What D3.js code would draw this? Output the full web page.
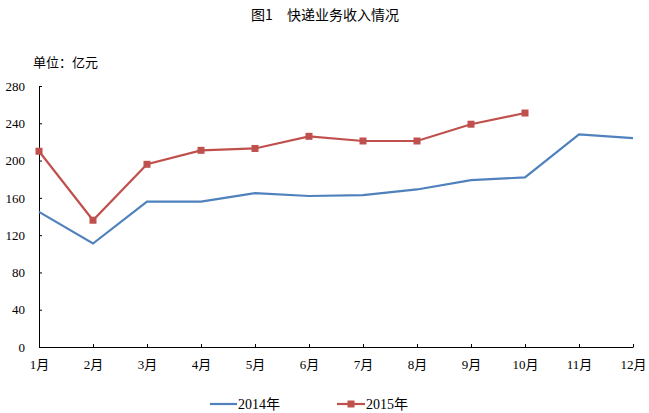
<!DOCTYPE html>
<html><head><meta charset="utf-8">
<script src="https://cdn.jsdelivr.net/npm/d3@7"></script>
<style>body{margin:0;background:#fff}svg{display:block}
.num{font-family:"Liberation Serif","Times New Roman","Noto Sans CJK SC",serif;}
.cjk{font-family:"Noto Sans CJK SC",sans-serif;}
</style>
</head><body>
<script>
const months = ["1月","2月","3月","4月","5月","6月","7月","8月","9月","10月","11月","12月"];
const series2014 = [145, 111, 156, 156, 165, 162, 163, 169, 179, 182, 228, 224];
const series2015 = [210, 136, 196, 211, 213, 226, 221, 221, 239, 251];
const yTicks = [0, 40, 80, 120, 160, 200, 240, 280];
const seriesNames = ["2014年", "2015年"];
const colors = ["#4F81BD", "#C0504D"];

const W = 649, H = 413;
const svg = d3.select("body").append("svg").attr("width", W).attr("height", H);

const x = d3.scalePoint().domain(months).range([39, 633]);
const y = d3.scaleLinear().domain([0, 280]).range([347, 86]);

svg.append("text").attr("class", "cjk").attr("x", 325).attr("y", 20).attr("text-anchor", "middle")
  .attr("font-size", 14).attr("fill", "#000")
  .text("图1　快递业务收入情况");
svg.append("text").attr("class", "cjk").attr("x", 33).attr("y", 67)
  .attr("font-size", 13).attr("fill", "#000")
  .text("单位：亿元");

const yAxis = svg.append("g").attr("transform", "translate(39,0)")
  .call(d3.axisLeft(y).tickValues(yTicks).tickSize(-3).tickSizeOuter(0).tickPadding(14));
yAxis.attr("font-family", null);
yAxis.select(".domain").attr("stroke", "#000");
yAxis.selectAll("line").attr("stroke", "#000");
yAxis.selectAll("text").attr("class", "num").attr("font-size", 13).attr("fill", "#000");

const xAxis = svg.append("g").attr("transform", "translate(0,347)")
  .call(d3.axisBottom(x).tickSize(-3).tickSizeOuter(0).tickPadding(13));
xAxis.attr("font-family", null);
xAxis.select(".domain").attr("stroke", "#000");
xAxis.selectAll("line").attr("stroke", "#000");
xAxis.selectAll("text").attr("class", "num").attr("font-size", 13).attr("fill", "#000");

const line = d3.line().x((d, i) => x(months[i])).y(d => y(d));
svg.append("path").datum(series2014).attr("d", line).attr("fill", "none")
  .attr("stroke", colors[0]).attr("stroke-width", 2.2);
svg.append("path").datum(series2015).attr("d", line).attr("fill", "none")
  .attr("stroke", colors[1]).attr("stroke-width", 2.2);
svg.selectAll("rect.m").data(series2015).enter().append("rect").attr("class", "m")
  .attr("x", (d, i) => x(months[i]) - 3.5).attr("y", d => y(d) - 3.5)
  .attr("width", 7).attr("height", 7).attr("fill", colors[1]);

// legend
const leg = svg.append("g");
leg.append("line").attr("x1", 210).attr("x2", 237).attr("y1", 404).attr("y2", 404)
  .attr("stroke", colors[0]).attr("stroke-width", 2.2);
leg.append("text").attr("class", "num").attr("x", 238).attr("y", 409).attr("font-size", 14)
  .attr("fill", "#000").text(seriesNames[0]);
leg.append("line").attr("x1", 337).attr("x2", 365).attr("y1", 404).attr("y2", 404)
  .attr("stroke", colors[1]).attr("stroke-width", 2.2);
leg.append("rect").attr("x", 347.5).attr("y", 400.5).attr("width", 7).attr("height", 7).attr("fill", colors[1]);
leg.append("text").attr("class", "num").attr("x", 366).attr("y", 409).attr("font-size", 14)
  .attr("fill", "#000").text(seriesNames[1]);
</script>
</body></html>
